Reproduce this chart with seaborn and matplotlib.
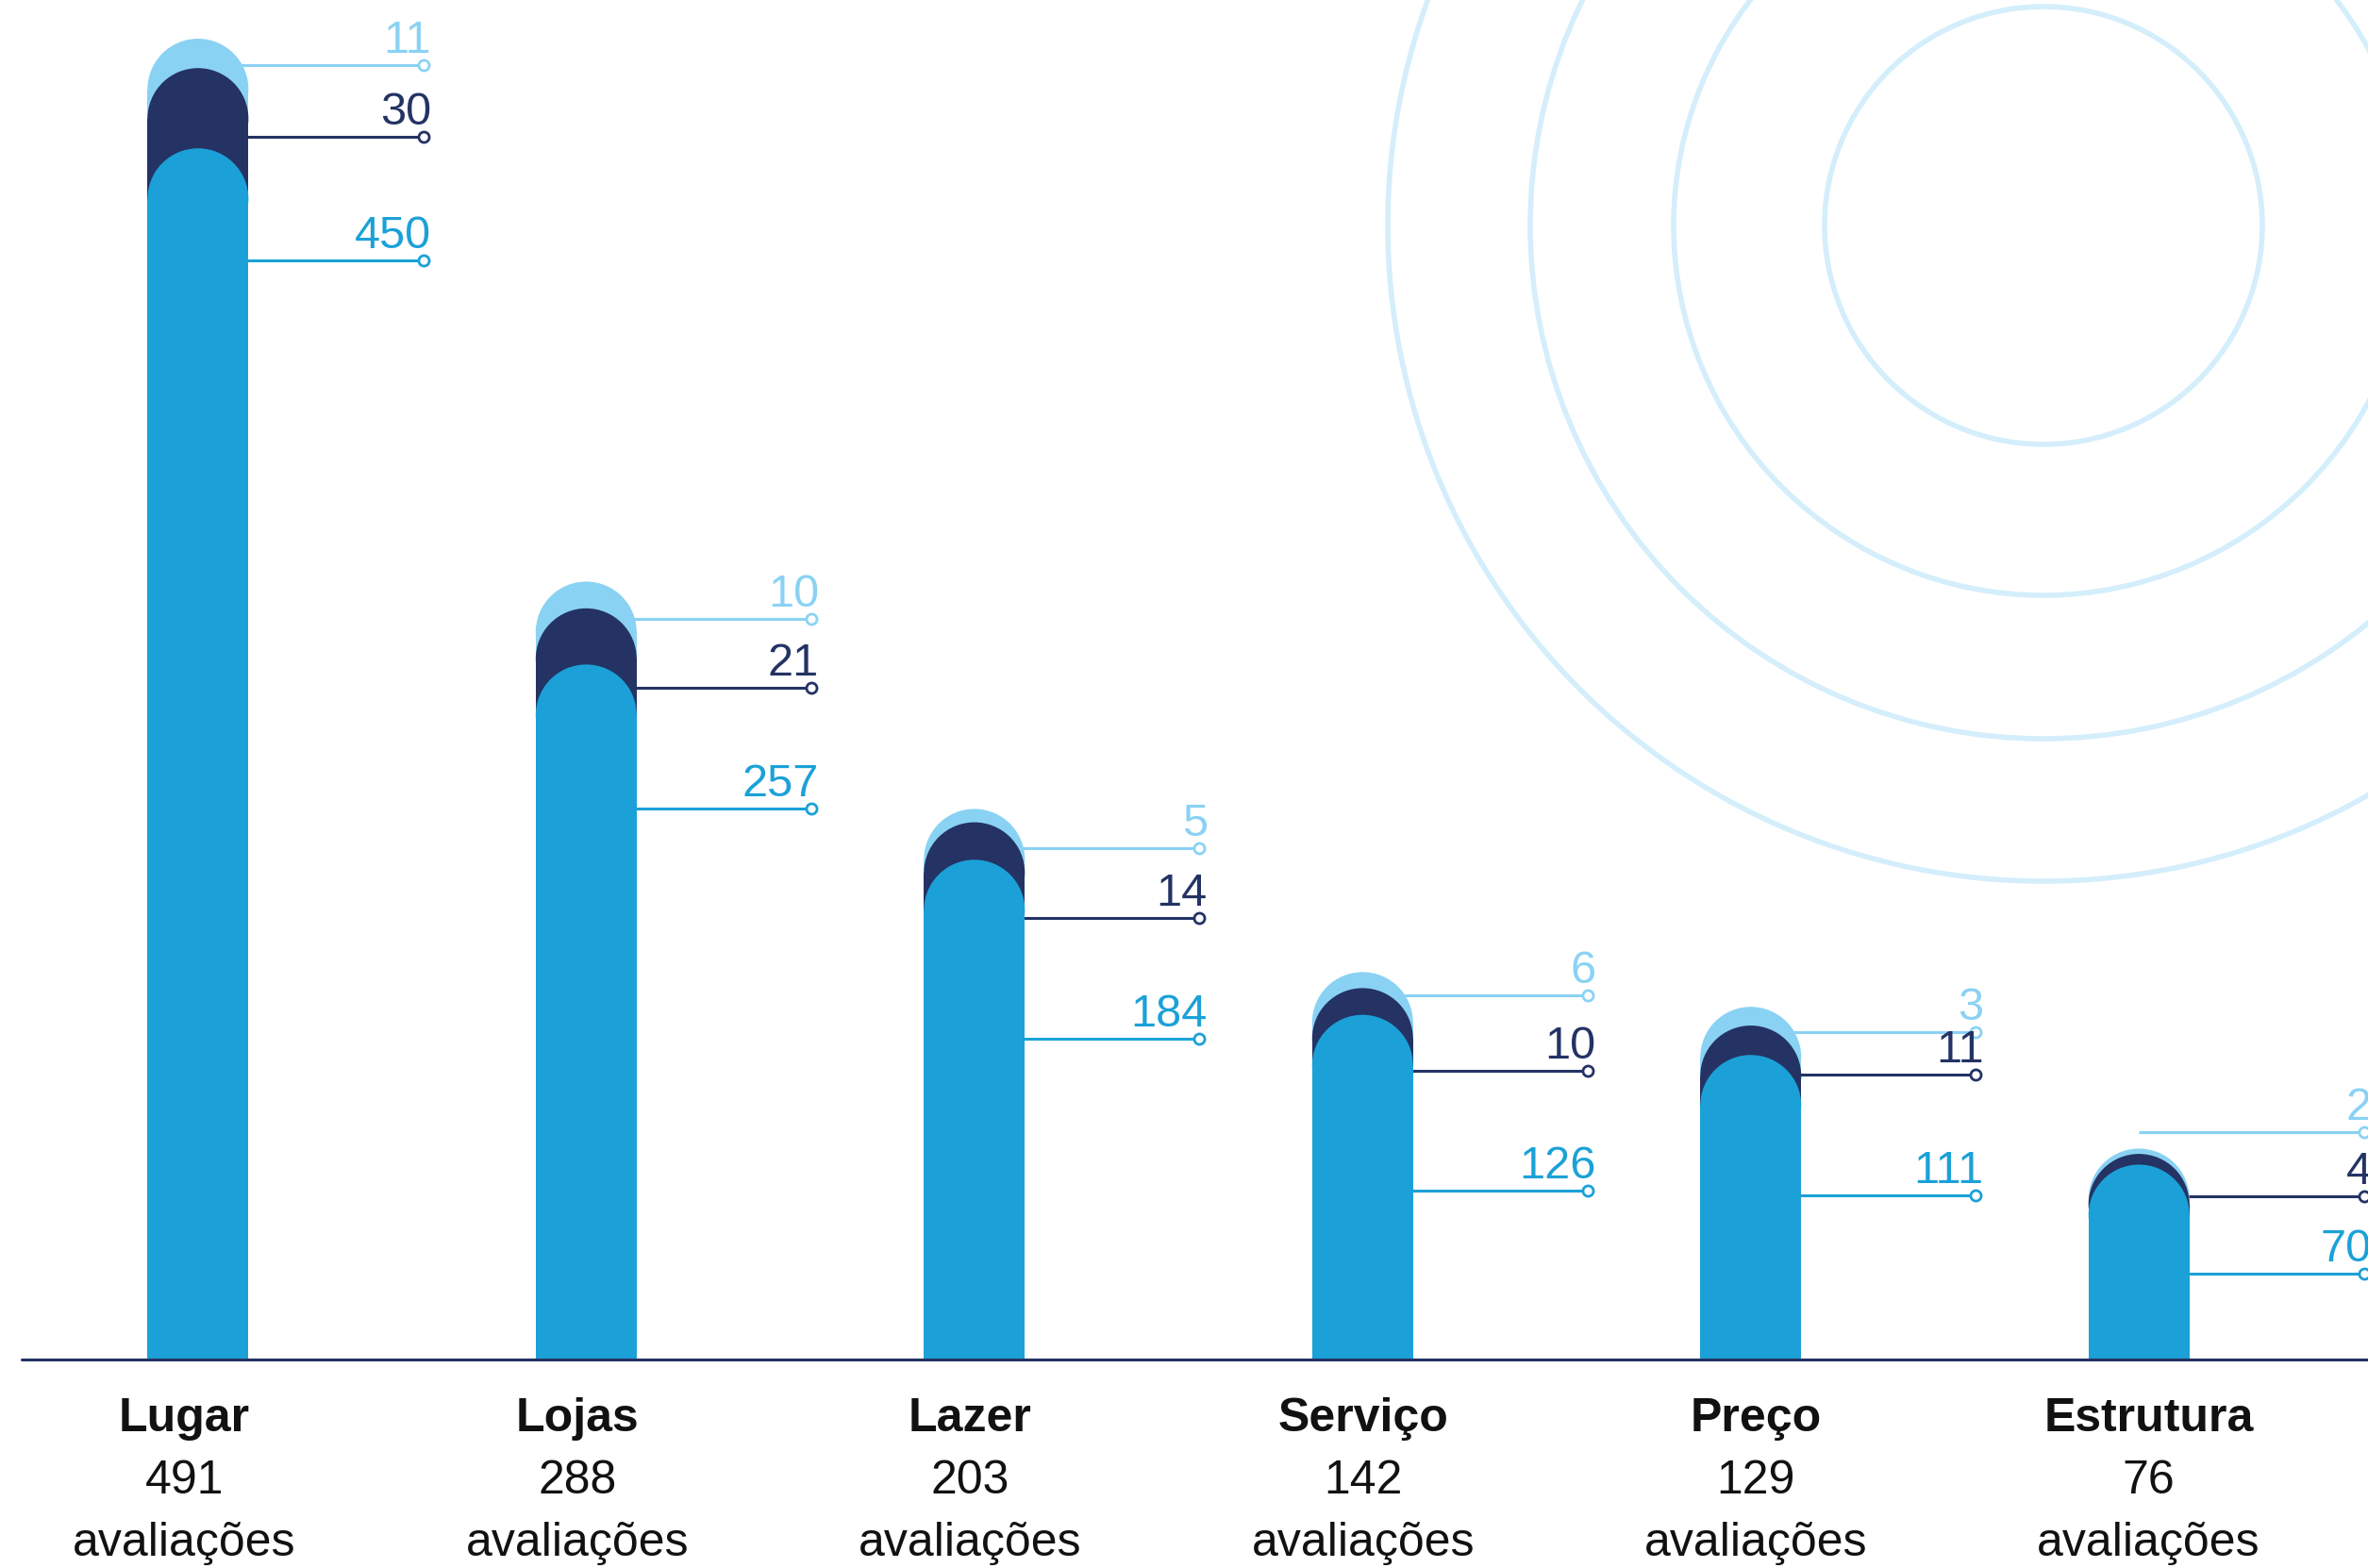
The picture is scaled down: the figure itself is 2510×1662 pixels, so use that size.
import numpy as np
import pandas as pd
import matplotlib
matplotlib.use('Agg')
import matplotlib.pyplot as plt
import seaborn as sns
from matplotlib.patches import Ellipse, Circle

# Data
categories = ['Lugar', 'Lojas', 'Lazer', 'Serviço', 'Preço', 'Estrutura']
totals = [491, 288, 203, 142, 129, 76]
bottom_vals = [450, 257, 184, 126, 111, 70]
middle_vals = [30, 21, 14, 10, 11, 4]
top_vals = [11, 10, 5, 6, 3, 2]

# callout layout (data units), hand placed in the original
callout_shift = [-7, -11, -12, -6, -6.5, 9]
gap_top_mid = [27, 26, 26, 28, 16, 24]
gap_mid_bottom = [46, 45, 45, 45, 45, 29]

BLUE = '#1ba1d7'
NAVY = '#243364'
LIGHT = '#8ad2f4'
RING = '#d4eefb'

sns.set_theme(style='white')
plt.rcParams['font.family'] = ['Liberation Sans', 'DejaVu Sans']

W, H = 2510, 1662
fig = plt.figure(figsize=(W / 100, H / 100), dpi=100)

# decorative rings in pixel space
bg = fig.add_axes([0, 0, 1, 1], zorder=0)
bg.set_xlim(0, W)
bg.set_ylim(H, 0)
bg.set_aspect('equal')
bg.axis('off')
for r in [232, 392, 544, 695]:
    bg.add_patch(Circle((2166, 239), r, fill=False, ec=RING, lw=4))

ax = fig.add_axes([0, 0, 1, 1], zorder=1)
ax.patch.set_alpha(0)

XLIM = (-0.51, 5.59)
YLIM = (-78.0, 508.3)
bar_w = 0.26
# vertical radius (data units) so that caps are true semicircles on screen
r_y = (bar_w / 2) * (W / (XLIM[1] - XLIM[0])) / (H / (YLIM[1] - YLIM[0]))

df = pd.DataFrame({
    'categoria': categories,
    'total': totals,
    'navy': np.add(bottom_vals, middle_vals),
    'blue': bottom_vals,
})

for col, color, z in [('total', LIGHT, 2), ('navy', NAVY, 3), ('blue', BLUE, 4)]:
    n0 = len(ax.patches)
    sns.barplot(x=df['categoria'], y=df[col] - 0.85 * r_y, color=color, saturation=1,
                width=bar_w, ax=ax, zorder=z, linewidth=0, errorbar=None)
    for p in list(ax.patches[n0:]):
        cx = p.get_x() + p.get_width() / 2
        ax.add_patch(Ellipse((cx, p.get_height()), width=p.get_width(), height=2 * r_y,
                             fc=color, ec='none', zorder=z))

# callouts
for i in range(len(categories)):
    y_top = totals[i] + callout_shift[i]
    y_mid = y_top - gap_top_mid[i]
    y_bot = y_mid - gap_mid_bottom[i]
    x_end = i + 0.58
    for y, val, color in [(y_top, top_vals[i], LIGHT), (y_mid, middle_vals[i], NAVY),
                          (y_bot, bottom_vals[i], BLUE)]:
        ax.plot([i, x_end], [y, y], color=color, lw=2.2, zorder=1, solid_capstyle='butt')
        ax.plot([x_end], [y], marker='o', ms=8, mfc='white', mec=color, mew=2, zorder=5)
        ax.text(x_end + 0.02, y + 4.6, str(val), color=color, ha='right',
                va='baseline', fontsize=35, zorder=6)

# category labels
for i, (name, tot) in enumerate(zip(categories, totals)):
    lx = i * 1.012 - 0.035
    ax.text(lx, -26.8, name, ha='center', va='baseline', fontsize=36,
            fontweight='bold', color='#111111')
    ax.text(lx, -50.1, str(tot), ha='center', va='baseline', fontsize=36, color='#111111')
    ax.text(lx, -73.4, 'avaliações', ha='center', va='baseline', fontsize=36, color='#111111')

ax.axhline(0, xmin=0.009, xmax=1, color=NAVY, lw=2.2, zorder=5)

ax.set_xlim(*XLIM)
ax.set_ylim(*YLIM)
ax.axis('off')

fig.savefig('out.png', dpi=100)
